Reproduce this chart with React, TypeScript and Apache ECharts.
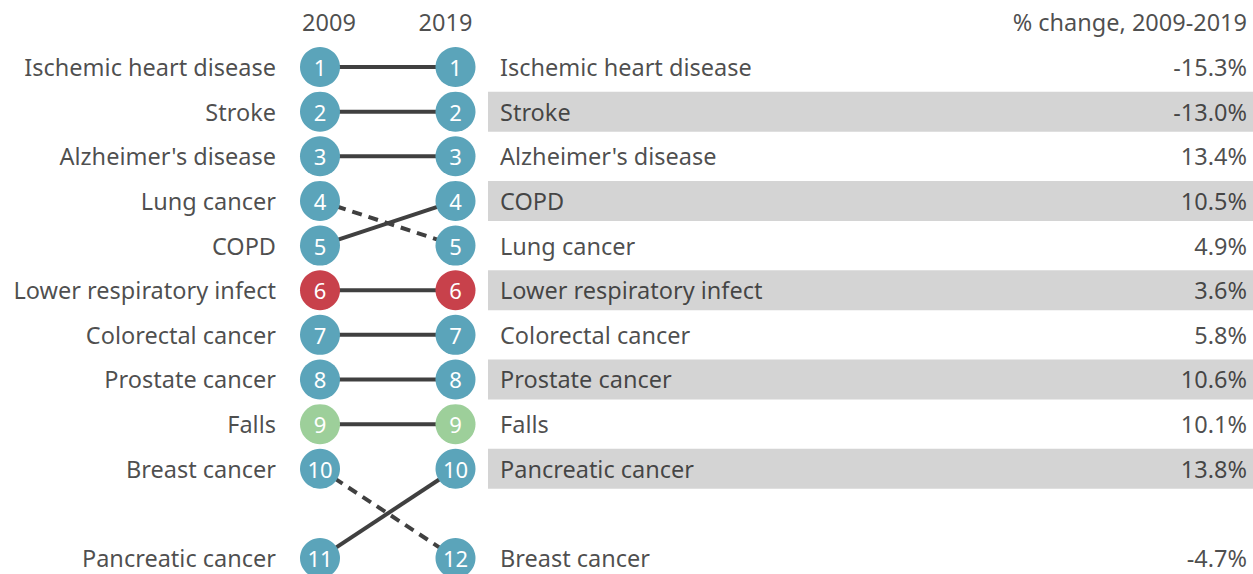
import React, { useEffect, useRef } from "react";
import * as echarts from "echarts";

// ---- data ----
const causes = [
  "Ischemic heart disease",
  "Stroke",
  "Alzheimer's disease",
  "Lung cancer",
  "COPD",
  "Lower respiratory infect",
  "Colorectal cancer",
  "Prostate cancer",
  "Falls",
  "Breast cancer",
  "Pancreatic cancer",
];
// actual ranks
const rank2009 = [1, 2, 3, 4, 5, 6, 7, 8, 9, 10, 11];
const rank2019 = [1, 2, 3, 5, 4, 6, 7, 8, 9, 12, 10];
// display rows (row 11 left empty as a gap; causes outside the top 10 go to row 12)
const row2009 = [1, 2, 3, 4, 5, 6, 7, 8, 9, 10, 12];
const row2019 = [1, 2, 3, 5, 4, 6, 7, 8, 9, 12, 10];
const pctChange = [-15.3, -13.0, 13.4, 4.9, 10.5, 3.6, 5.8, 10.6, 10.1, -4.7, 13.8];
const causeGroup = [
  "ncd", "ncd", "ncd", "ncd", "ncd", "communicable", "ncd", "ncd", "injury", "ncd", "ncd",
];
const shadedRows = [2, 4, 6, 8, 10];
const years = ["2009", "2019"];
const changeTitle = "% change, 2009-2019";

const groupColor: Record<string, string> = {
  ncd: "#5ba4ba",
  communicable: "#c8414b",
  injury: "#9dcf9a",
};

const FONT = "Noto Sans";
const TEXT = "#1e1e1e";
const FS = 23.5;

export default function App() {
  const ref = useRef<HTMLDivElement>(null);

  useEffect(() => {
    if (!ref.current) return;
    const chart = echarts.init(ref.current, undefined, { renderer: "svg" });

    const lineSeries = causes.map((c, i) => ({
      type: "line",
      name: "link-" + c,
      xAxisIndex: 0,
      yAxisIndex: 0,
      data: [
        [0, row2009[i]],
        [1, row2019[i]],
      ],
      showSymbol: false,
      symbol: "none",
      silent: true,
      z: 2,
      lineStyle: {
        color: "#404040",
        width: 4,
        type: rank2019[i] > rank2009[i] ? [10, 7] : "solid",
      },
    }));

    const circleSeries = (col: number, rows: number[], ranks: number[]) => ({
      type: "scatter",
      xAxisIndex: 0,
      yAxisIndex: 0,
      symbolSize: 40,
      silent: true,
      z: 5,
      data: causes.map((c, i) => ({
        value: [col, rows[i], ranks[i]],
        itemStyle: { color: groupColor[causeGroup[i]], opacity: 1 },
      })),
      label: {
        show: true,
        position: "inside",
        formatter: (p: any) => String(p.value[2]),
        color: "#ffffff",
        fontFamily: FONT,
        fontSize: 22,
      },
    });

    const textStyle = {
      color: TEXT,
      fontFamily: FONT,
      fontSize: FS,
    };

    const option: any = {
      animation: false,
      grid: [
        { left: 320, width: 135.5, top: 22.36, height: 535.7 },
        { left: 488, right: 0, top: 22.36, height: 535.7 },
      ],
      xAxis: [
        { type: "value", gridIndex: 0, min: 0, max: 1, show: false },
        { type: "value", gridIndex: 1, min: 0, max: 1, show: false },
      ],
      yAxis: [
        { type: "value", gridIndex: 0, min: 0, max: 12, inverse: true, show: false },
        { type: "value", gridIndex: 1, min: 0, max: 12, inverse: true, show: false },
      ],
      series: [
        // shaded bands + percentage column
        {
          type: "scatter",
          xAxisIndex: 1,
          yAxisIndex: 1,
          symbolSize: 0,
          silent: true,
          z: 3,
          data: causes.map((c, i) => [1, row2019[i], pctChange[i]]),
          label: {
            show: true,
            position: "left",
            distance: 6,
            formatter: (p: any) => p.value[2].toFixed(1) + "%",
            ...textStyle,
          },
          markArea: {
            silent: true,
            itemStyle: { color: "#d4d4d4" },
            data: shadedRows.map((r) => [
              { coord: [0, r - 0.448] },
              { coord: [1, r + 0.448] },
            ]),
          },
        },
        // right-hand names (2019 order)
        {
          type: "scatter",
          xAxisIndex: 1,
          yAxisIndex: 1,
          symbolSize: 0,
          silent: true,
          z: 4,
          data: causes.map((c, i) => [0, row2019[i], c]),
          label: {
            show: true,
            position: "right",
            distance: 12,
            formatter: (p: any) => p.value[2],
            ...textStyle,
          },
        },
        // left-hand names (2009 order)
        {
          type: "scatter",
          xAxisIndex: 0,
          yAxisIndex: 0,
          symbolSize: 0,
          silent: true,
          z: 4,
          data: causes.map((c, i) => [0, row2009[i], c]),
          label: {
            show: true,
            position: "left",
            distance: 44,
            formatter: (p: any) => p.value[2],
            ...textStyle,
          },
        },
        ...lineSeries,
        circleSeries(0, row2009, rank2009),
        circleSeries(1, row2019, rank2019),
        // headers
        {
          type: "scatter",
          xAxisIndex: 0,
          yAxisIndex: 0,
          symbolSize: 0,
          silent: true,
          data: [
            { value: [0, 0, years[0]], label: { offset: [9, 0] } },
            { value: [1, 0, years[1]], label: { offset: [-10, 0] } },
          ],
          label: {
            show: true,
            position: "inside",
            formatter: (p: any) => p.value[2],
            ...textStyle,
          },
        },
        {
          type: "scatter",
          xAxisIndex: 1,
          yAxisIndex: 1,
          symbolSize: 0,
          silent: true,
          data: [[1, 0, changeTitle]],
          label: {
            show: true,
            position: "left",
            distance: 6,
            formatter: (p: any) => p.value[2],
            ...textStyle,
          },
        },
      ],
    };

    chart.setOption(option);
    return () => chart.dispose();
  }, []);

  return (
    <div
      ref={ref}
      style={{ position: "fixed", left: 0, top: 0, width: 1253, height: 574, background: "#ffffff" }}
    />
  );
}
